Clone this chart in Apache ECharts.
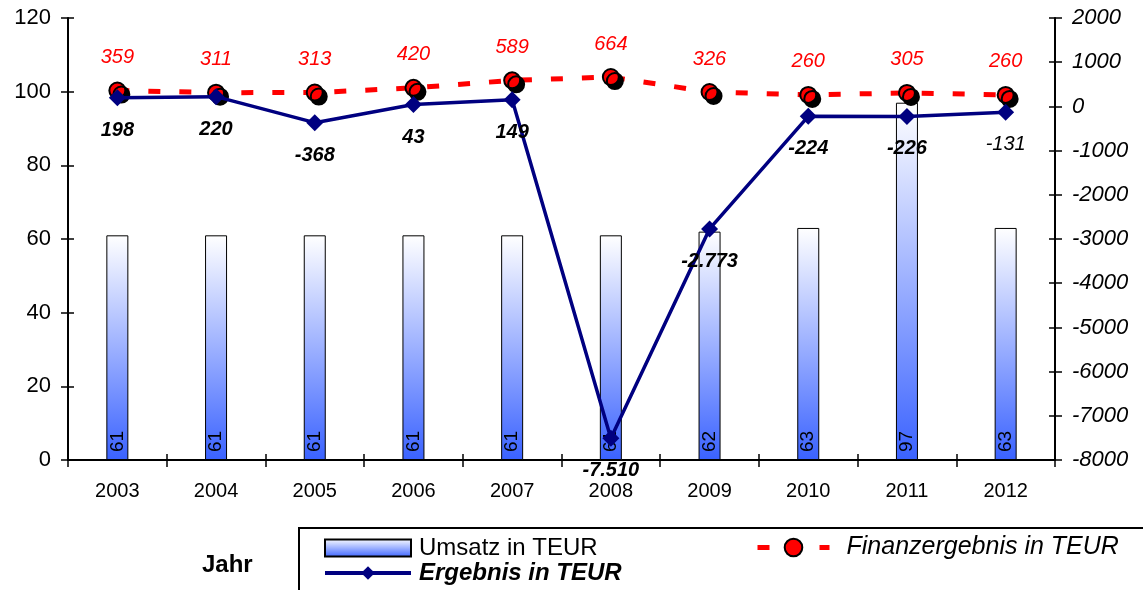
<!DOCTYPE html>
<html>
<head>
<meta charset="utf-8">
<script src="https://cdn.jsdelivr.net/npm/echarts@6/dist/echarts.min.js"></script>
<style>
  html, body { margin: 0; padding: 0; background: #fff; }
  #chart { width: 1143px; height: 590px; }
</style>
</head>
<body>
<div id="chart"></div>
<script>
// Jahre
const years = ["2003", "2004", "2005", "2006", "2007", "2008", "2009", "2010", "2011", "2012"]
// Umsatz in TEUR (linke Achse)
const umsatz = [61, 61, 61, 61, 61, 61, 62, 63, 97, 63]
// Ergebnis in TEUR (rechte Achse)
const ergebnis = [198, 220, -368, 43, 149, -7510, -2773, -224, -226, -131]
// Finanzergebnis in TEUR (rechte Achse)
const finanz = [359, 311, 313, 420, 589, 664, 326, 260, 305, 260]

const font = "'Liberation Sans', Arial, sans-serif"

// deutsche Tausenderpunkte
const fmt = (v) => {
  const s = String(Math.abs(v)).replace(/\B(?=(\d{3})+(?!\d))/g, ".")
  return (v < 0 ? "-" : "") + s
}

const tick = { show: true, length: 7, lineStyle: { color: "#000", width: 1.5 } }
const innerTick = { show: true, inside: true, length: 6, lineStyle: { color: "#000", width: 1.5 } }

const redDash = { color: "#ff0000", width: 5, type: [12, 19] }

const chart = echarts.init(document.getElementById("chart"))

const option = {
  animation: false,
  textStyle: { fontFamily: font },
  grid: { left: 68, right: 88, top: 18, bottom: 130 },
  xAxis: [
    {
      type: "category",
      data: years,
      axisLine: { onZero: false, lineStyle: { color: "#000", width: 2 } },
      axisTick: tick,
      axisLabel: { color: "#000", fontSize: 20, margin: 21 },
    },
    {
      // Innen-Striche (Achsstriche kreuzen die Linie)
      type: "category",
      position: "bottom",
      data: years,
      axisLine: { show: false, onZero: false },
      axisTick: innerTick,
      axisLabel: { show: false },
    },
  ],
  yAxis: [
    {
      type: "value",
      min: 0,
      max: 120,
      interval: 20,
      axisLine: { show: true, lineStyle: { color: "#000", width: 2 } },
      axisTick: tick,
      axisLabel: { color: "#000", fontSize: 22, margin: 17 },
      splitLine: { show: false },
    },
    {
      type: "value",
      position: "right",
      min: -8000,
      max: 2000,
      interval: 1000,
      axisLine: { show: true, lineStyle: { color: "#000", width: 2 } },
      axisTick: tick,
      axisLabel: { color: "#000", fontSize: 22, fontStyle: "italic", margin: 17, formatter: (v) => String(v) },
      splitLine: { show: false },
    },
    {
      type: "value",
      position: "right",
      min: -8000,
      max: 2000,
      interval: 1000,
      axisLine: { show: false },
      axisTick: innerTick,
      axisLabel: { show: false },
      splitLine: { show: false },
    },
    {
      type: "value",
      position: "left",
      min: 0,
      max: 120,
      interval: 20,
      axisLine: { show: false },
      axisTick: innerTick,
      axisLabel: { show: false },
      splitLine: { show: false },
    },
  ],
  legend: [
    {
      orient: "vertical",
      left: 323,
      top: 536,
      height: 70,
      padding: 0,
      itemWidth: 86,
      itemHeight: 17,
      itemGap: 1,
      data: [
        { name: "Umsatz in TEUR", icon: "rect", textStyle: { fontSize: 24, lineHeight: 20, color: "#000", padding: [0, 0, 0, 3] } },
        {
          name: "Ergebnis in TEUR",
          lineStyle: { width: 4 },
          textStyle: { fontStyle: "italic", fontWeight: "bold", fontSize: 24, lineHeight: 20, color: "#000", padding: [0, 0, 0, 3] },
        },
      ],
    },
    {
      left: 755,
      top: 535,
      padding: 0,
      itemWidth: 72,
      itemHeight: 22,
      data: [
        {
          name: "Finanzergebnis in TEUR",
          lineStyle: redDash,
          textStyle: { fontStyle: "italic", fontSize: 25, lineHeight: 22, color: "#000", padding: [0, 0, 0, 12] },
        },
      ],
    },
  ],
  graphic: [
    {
      type: "rect",
      shape: { x: 299, y: 528, width: 900, height: 80 },
      style: { fill: "none", stroke: "#000", lineWidth: 2 },
      z: 1,
    },
    {
      type: "text",
      left: 202,
      top: 553,
      style: { text: "Jahr", font: "bold 24px " + font, fill: "#000" },
    },
  ],
  series: [
    {
      name: "Umsatz in TEUR",
      type: "bar",
      barWidth: 22,
      data: umsatz,
      itemStyle: {
        color: new echarts.graphic.LinearGradient(0, 0, 0, 1, [
          { offset: 0, color: "#ffffff" },
          { offset: 1, color: "#3a62ff" },
        ]),
        borderColor: "#000",
        borderWidth: 1,
      },
      label: {
        show: true,
        position: "insideBottom",
        rotate: 90,
        align: "left",
        verticalAlign: "middle",
        distance: 8,
        color: "#000",
        fontSize: 19,
      },
      z: 2,
    },
    {
      name: "Finanzergebnis in TEUR",
      type: "line",
      yAxisIndex: 1,
      data: finanz,
      symbol: "circle",
      symbolSize: 16,
      lineStyle: redDash,
      itemStyle: {
        color: "#ff0000",
        borderColor: "#000",
        borderWidth: 2,
        shadowColor: "#000",
        shadowOffsetX: 4,
        shadowOffsetY: 4,
        shadowBlur: 0,
      },
      label: {
        show: true,
        position: "top",
        distance: 14,
        color: "#ff0000",
        fontStyle: "italic",
        fontSize: 20,
      },
      z: 3,
    },
    {
      name: "Ergebnis in TEUR",
      type: "line",
      yAxisIndex: 1,
      data: ergebnis.map((v, i) => ({
        value: v,
        label: i === ergebnis.length - 1 ? { fontWeight: "normal" } : {},
      })),
      symbol: "diamond",
      symbolSize: 17,
      lineStyle: { color: "#000080", width: 3.5 },
      itemStyle: { color: "#000080" },
      label: {
        show: true,
        position: "bottom",
        distance: 14,
        color: "#000",
        fontStyle: "italic",
        fontWeight: "bold",
        fontSize: 20,
        formatter: (p) => fmt(p.value),
      },
      z: 4,
    },
  ],
}

chart.setOption(option)
</script>
</body>
</html>
